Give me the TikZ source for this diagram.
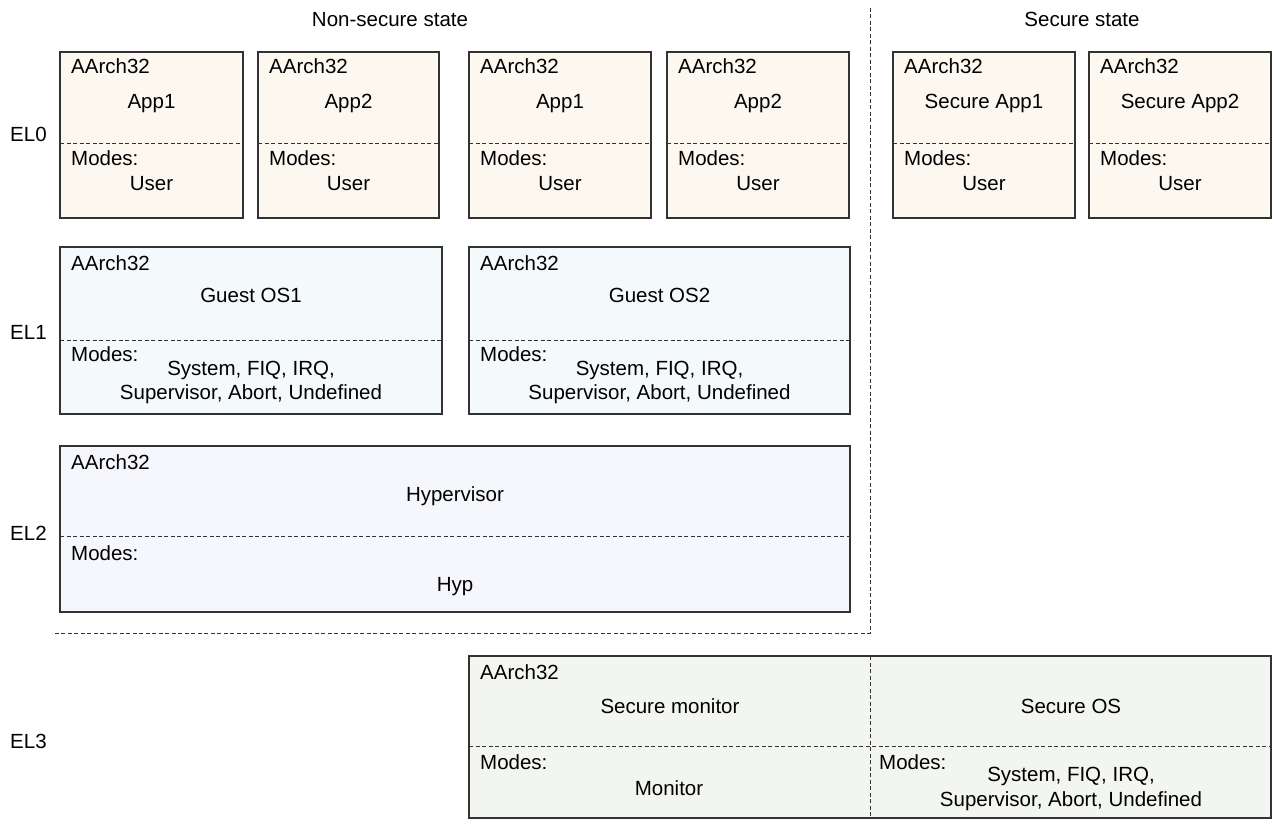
\documentclass[tikz,border=0pt]{standalone}
\usepackage{fontspec}
\setmainfont{Liberation Sans}
\usepackage{xcolor}
\usepackage{tikz}
\usetikzlibrary{positioning, calc}

\definecolor{elzero}{HTML}{FCF8F0}
\definecolor{elone}{HTML}{F4F9FC}
\definecolor{eltwo}{HTML}{F6F7FD}
\definecolor{elthree}{HTML}{F3F6F0}
\definecolor{edge}{HTML}{333333}

\begin{document}
\begin{tikzpicture}[x=1pt, y=-1pt,
    box/.style={draw=edge, line width=1.1pt},
    split/.style={draw=edge, line width=0.8pt, dash pattern=on 4pt off 2.5pt},
    txt/.style={font=\fontsize{20.5}{24}\selectfont, inner sep=0pt}]
  \useasboundingbox (0,0) rectangle (1274,821);

  % State titles and boundaries
  \node[txt, anchor=base] (nstitle) at (390,27) {Non-secure state};
  \node[txt, anchor=base] (stitle) at (1082,27) {Secure state};
  \coordinate (vtop) at (870,8);
  \coordinate (corner) at (870,633);
  \coordinate (hleft) at (52,633);
  \draw[split] (vtop) -- (corner) -- (hleft);

  % Exception level labels
  \node[txt, anchor=base west] (elzero) at (10,142) {EL0};
  \node[txt, anchor=base west] (elone) at (10,339) {EL1};
  \node[txt, anchor=base west] (eltwo) at (10,540) {EL2};
  \node[txt, anchor=base west] (elthree) at (10,748) {EL3};

  % EL0 applications
  \foreach \xl/\xr/\name/\lbl in {60/243/nsa/App1, 258/439/nsb/App2,
      469/651/nsc/App1, 667/849/nsd/App2,
      893/1075/sa/Secure App1, 1089/1271/sb/Secure App2} {
    \draw[box, fill=elzero] (\xl,52) rectangle (\xr,218);
    \draw[split] (\xl,143) -- (\xr,143);
    \node[txt, anchor=base west] (\name-arch) at (\xl+11,74) {AArch32};
    \node[txt, anchor=base] (\name-title) at ({(\xl+\xr)/2},109) {\lbl};
    \node[txt, anchor=base west] (\name-modes) at (\xl+11,166) {Modes:};
    \node[txt, anchor=base] (\name-mode) at ({(\xl+\xr)/2},191) {User};
  }

  % EL1 guest operating systems
  \foreach \xl/\xr/\name/\lbl in {60/442/osa/Guest OS1, 469/850/osb/Guest OS2} {
    \draw[box, fill=elone] (\xl,247) rectangle (\xr,414);
    \draw[split] (\xl,340) -- (\xr,340);
    \node[txt, anchor=base west] (\name-arch) at (\xl+11,270) {AArch32};
    \node[txt, anchor=base] (\name-title) at ({(\xl+\xr)/2},302) {\lbl};
    \node[txt, anchor=base west] (\name-modes) at (\xl+11,361) {Modes:};
    \node[txt, anchor=base] (\name-modea) at ({(\xl+\xr)/2},375) {System, FIQ, IRQ,};
    \node[txt, anchor=base] (\name-modeb) at ({(\xl+\xr)/2},399) {Supervisor, Abort, Undefined};
  }

  % EL2 hypervisor
  \draw[box, fill=eltwo] (60,446) rectangle (850,612);
  \draw[split] (60,536) -- (850,536);
  \node[txt, anchor=base west] (hyp-arch) at (71,469) {AArch32};
  \node[txt, anchor=base] (hyp-title) at (455,501) {Hypervisor};
  \node[txt, anchor=base west] (hyp-modes) at (71,560) {Modes:};
  \node[txt, anchor=base] (hyp-mode) at (455,591) {Hyp};

  % EL3 secure monitor and secure OS
  \draw[box, fill=elthree] (469,656) rectangle (1271,818);
  \draw[split] (469,746) -- (1271,746);
  \draw[split] (870,656) -- (870,818);
  \node[txt, anchor=base west] (mon-arch) at (480,679) {AArch32};
  \node[txt, anchor=base] (mon-title) at (670,713) {Secure monitor};
  \node[txt, anchor=base west] (mon-modes) at (480,769) {Modes:};
  \node[txt, anchor=base] (mon-mode) at (669,795) {Monitor};
  \node[txt, anchor=base] (sos-title) at (1071,713) {Secure OS};
  \node[txt, anchor=base west] (sos-modes) at (879,769) {Modes:};
  \node[txt, anchor=base] (sos-modea) at (1071,781) {System, FIQ, IRQ,};
  \node[txt, anchor=base] (sos-modeb) at (1071,806) {Supervisor, Abort, Undefined};
\end{tikzpicture}
\end{document}
